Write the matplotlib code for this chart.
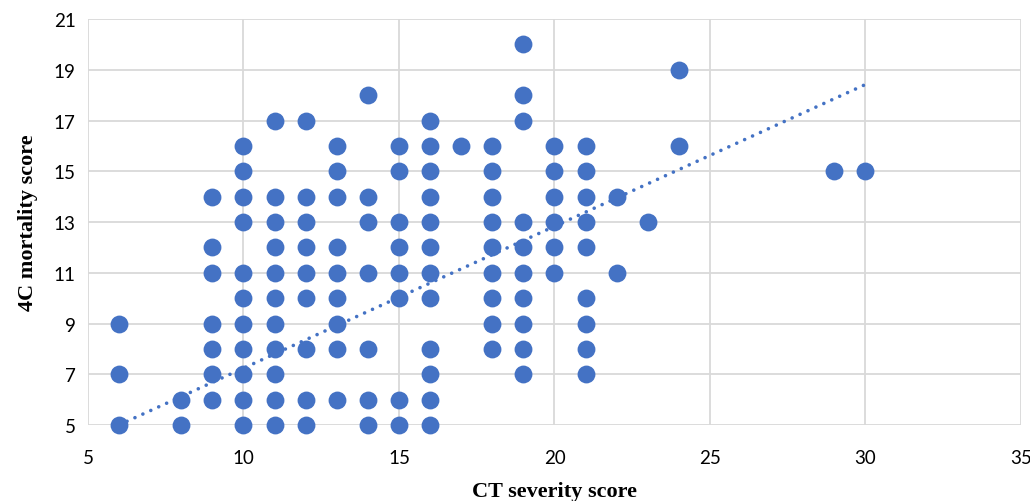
import matplotlib.pyplot as plt
import numpy as np

# CT severity score -> list of 4C mortality scores seen at that CT score
ct_scores = [6, 8, 9, 10, 11, 12, 13, 14, 15, 16, 17, 18, 19, 20, 21, 22, 23, 24, 29, 30]
mortality = [
    [9, 7, 5],
    [6, 5],
    [14, 12, 11, 9, 8, 7, 6],
    [16, 15, 14, 13, 11, 10, 9, 8, 7, 6, 5],
    [17, 14, 13, 12, 11, 10, 9, 8, 7, 6, 5],
    [17, 14, 13, 12, 11, 10, 8, 6, 5],
    [16, 15, 14, 12, 11, 10, 9, 8, 6],
    [18, 14, 13, 11, 8, 6, 5],
    [16, 15, 13, 12, 11, 10, 6, 5],
    [17, 16, 15, 14, 13, 12, 11, 10, 8, 7, 6, 5],
    [16],
    [16, 15, 14, 13, 12, 11, 10, 9, 8],
    [20, 18, 17, 13, 12, 11, 10, 9, 8, 7],
    [16, 15, 14, 13, 12, 11],
    [16, 15, 14, 13, 12, 10, 9, 8, 7],
    [14, 11],
    [13],
    [19, 16],
    [15],
    [15],
]
trend_slope = 0.559
trend_intercept = 1.65

x = np.array([c for c, ys in zip(ct_scores, mortality) for _ in ys], dtype=float)
y = np.array([v for ys in mortality for v in ys], dtype=float)

blue = '#4472C4'
fig = plt.figure(figsize=(10.30, 5.02), dpi=100)
ax = fig.add_axes([88 / 1030, 1 - 426 / 502, (1021 - 88) / 1030, (426 - 20) / 502])

ax.scatter(x, y, s=165, color=blue, zorder=3, linewidths=0, clip_on=False)

tx = np.array([x.min(), x.max()])
ax.plot(tx, trend_slope * tx + trend_intercept, color=blue, lw=2.6,
        linestyle=(0, (0.01, 2.4)), dash_capstyle='round', zorder=2, clip_on=False)

ax.set_xlim(5, 35)
ax.set_ylim(5, 21)
ax.set_xticks(range(5, 36, 5))
ax.set_yticks(range(5, 22, 2))
ax.grid(True, color='#d9d9d9', lw=1.3, zorder=0)
ax.set_axisbelow(True)
for s in ax.spines.values():
    s.set_visible(False)
ax.tick_params(axis='x', length=0, labelsize=13.5, pad=17)
ax.tick_params(axis='y', length=0, labelsize=13.5, pad=9)
for lab in ax.get_xticklabels() + ax.get_yticklabels():
    lab.set_family('Lato')
    lab.set_color('black')

ax.set_xlabel('CT severity score', family='Liberation Serif', fontweight='bold',
              fontsize=16, labelpad=11)
ax.set_ylabel('4C mortality score', family='Liberation Serif', fontweight='bold',
              fontsize=16, labelpad=11)

fig.savefig('out.png', dpi=100)
